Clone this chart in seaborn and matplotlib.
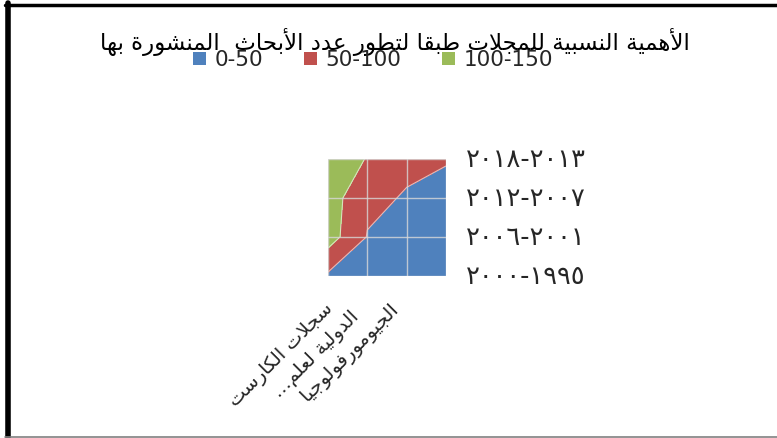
import numpy as np
import matplotlib
matplotlib.use("Agg")
import matplotlib.pyplot as plt
from matplotlib.patches import Patch
from matplotlib.lines import Line2D
from matplotlib.transforms import ScaledTranslation
import seaborn as sns

# ---- data ------------------------------------------------------------------
journals = ["سجلات الكارست\nالدولية لعلم...\nالجيومورفولوجيا", "", "", ""]
periods = ["٢٠٠٠-١٩٩٥", "٢٠٠٦-٢٠٠١", "٢٠١٢-٢٠٠٧", "٢٠١٨-٢٠١٣"]  # bottom -> top
z_1995_2000 = [42, 30, 20, 10]
z_2001_2006 = [123, 48, 30, 20]
z_2007_2012 = [125, 59, 47, 27]
z_2013_2018 = [140, 97, 58, 55]
band_edges = [0, 50, 100, 150]
band_labels = ["0-50", "50-100", "100-150"]
band_colors = ["#4F81BD", "#C0504D", "#9BBB59"]
title = "الأهمية النسبية للمجلات طبقا لتطور عدد الأبحاث  المنشورة بها"


def shape_arabic(text):
    """Very small Arabic shaper: contextual forms + lam-alef, then RTL reverse."""
    table = [("ء", 1), ("آ", 2), ("أ", 2), ("ؤ", 2), ("إ", 2), ("ئ", 4), ("ا", 2),
             ("ب", 4), ("ة", 2), ("ت", 4), ("ث", 4), ("ج", 4), ("ح", 4), ("خ", 4),
             ("د", 2), ("ذ", 2), ("ر", 2), ("ز", 2), ("س", 4), ("ش", 4), ("ص", 4),
             ("ض", 4), ("ط", 4), ("ظ", 4), ("ع", 4), ("غ", 4), ("ف", 4), ("ق", 4),
             ("ك", 4), ("ل", 4), ("م", 4), ("ن", 4), ("ه", 4), ("و", 2), ("ى", 2),
             ("ي", 4)]
    forms = {}
    code = 0xFE80
    for ch, n in table:
        forms[ch] = [chr(code + i) for i in range(n)]
        code += n
    lam_alef = {"آ": 0xFEF5, "أ": 0xFEF7, "إ": 0xFEF9, "ا": 0xFEFB}

    tokens = []
    i = 0
    while i < len(text):
        ch = text[i]
        if ch == "ل" and i + 1 < len(text) and text[i + 1] in lam_alef:
            c = lam_alef[text[i + 1]]
            tokens.append([chr(c), chr(c + 1)])
            i += 2
            continue
        tokens.append(forms.get(ch, ch))
        i += 1

    out = []
    for k, tok in enumerate(tokens):
        if isinstance(tok, str):
            out.append(tok)
            continue
        prev = tokens[k - 1] if k > 0 else None
        nxt = tokens[k + 1] if k + 1 < len(tokens) else None
        join_prev = isinstance(prev, list) and len(prev) == 4 and len(tok) >= 2
        join_next = len(tok) == 4 and isinstance(nxt, list) and len(nxt) >= 2
        if join_prev and join_next:
            out.append(tok[3])
        elif join_prev:
            out.append(tok[1])
        elif join_next:
            out.append(tok[2])
        else:
            out.append(tok[0])
    return "".join(reversed(out))


def rotated_label(text, shift=8):
    # Excel stacks the lines of a slanted label sideways, so nudge the
    # first line down-left and the last one up-right with padding spaces
    lines = [shape_arabic(line) for line in text.split("\n")]
    if len(lines) < 2:
        return "\n".join(lines)
    lines[0] = lines[0] + " " * shift
    lines[-1] = " " * shift + lines[-1]
    return "\n".join(lines)


sns.set_theme(style="white")
plt.rcParams["font.family"] = ["DejaVu Sans"]

fig = plt.figure(figsize=(7.77, 4.38), dpi=100)
ax = fig.add_axes([328 / 777, 1 - 276 / 438, 118 / 777, 117 / 438])

x = np.arange(len(journals))
y = np.arange(len(periods))
Z = np.array([z_1995_2000, z_2001_2006, z_2007_2012, z_2013_2018])

ax.contourf(x, y, Z, levels=band_edges, colors=band_colors)
ax.contour(x, y, Z, levels=band_edges[1:-1], colors="white", linewidths=0.8, alpha=0.6)

ax.set_xlim(0, len(journals) - 1)
ax.set_ylim(0, len(periods) - 1)
ax.set_xticks(x)
ax.set_xticklabels([rotated_label(j) for j in journals], rotation=45,
                   ha="center", va="top", fontsize=14, multialignment="center",
                   linespacing=1.3)
ax.set_yticks(y)
ax.set_yticklabels(periods, fontsize=18.5)
ax.yaxis.tick_right()
ax.tick_params(axis="y", length=0, pad=14)
ax.tick_params(axis="x", length=0, pad=14)

# nudge the slanted category label up-left, tick labels slightly up
x_shift = ScaledTranslation(-12 / 100, 32 / 100, fig.dpi_scale_trans)
for lab in ax.get_xticklabels():
    lab.set_transform(lab.get_transform() + x_shift)
y_shift = ScaledTranslation(0, 2 / 100, fig.dpi_scale_trans)
for lab in ax.get_yticklabels():
    lab.set_transform(lab.get_transform() + y_shift)

ax.grid(True, color="#d9d9d9", linewidth=1.0, alpha=0.8)
ax.set_axisbelow(False)
for s in ax.spines.values():
    s.set_visible(False)

fig.text(395 / 777, 1 - 42 / 438, shape_arabic(title), ha="center", va="center",
         fontsize=16.5, color="black")

handles = [Patch(facecolor=c, edgecolor="none") for c in band_colors]
fig.legend(handles, band_labels, loc="center", bbox_to_anchor=(373 / 777, 1 - 60 / 438),
           ncol=3, frameon=False, fontsize=15.5, handlelength=0.6, handleheight=0.6,
           handletextpad=0.4, columnspacing=1.9, borderpad=0)

# chart border like the original
fig.add_artist(Line2D([7.5 / 777, 7.5 / 777], [0, 1 - 3 / 438], color="black",
                      linewidth=4, transform=fig.transFigure))
fig.add_artist(Line2D([5 / 777, 1], [1 - 4.5 / 438, 1 - 4.5 / 438], color="black",
                      linewidth=2.5, transform=fig.transFigure))
fig.add_artist(Line2D([5 / 777, 1], [1 / 438, 1 / 438], color="#808080",
                      linewidth=1.2, transform=fig.transFigure))

fig.savefig("out.png", dpi=100)
